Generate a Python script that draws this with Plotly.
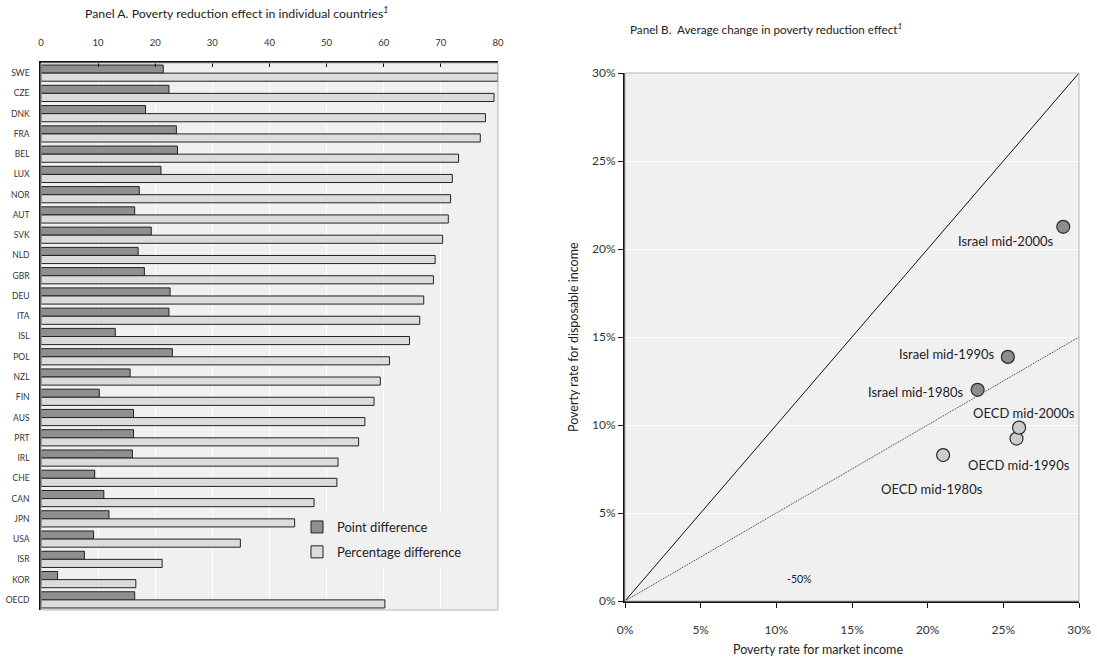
import plotly.graph_objects as go

# Panel A: poverty reduction effect by country
countries = ["SWE", "CZE", "DNK", "FRA", "BEL", "LUX", "NOR", "AUT", "SVK", "NLD",
             "GBR", "DEU", "ITA", "ISL", "POL", "NZL", "FIN", "AUS", "PRT", "IRL",
             "CHE", "CAN", "JPN", "USA", "ISR", "KOR", "OECD"]
point_diff = [21.4, 22.4, 18.3, 23.7, 23.9, 21.0, 17.2, 16.4, 19.3, 17.0,
              18.1, 22.6, 22.4, 13.0, 23.0, 15.6, 10.2, 16.2, 16.2, 16.0,
              9.4, 11.0, 11.9, 9.2, 7.6, 2.9, 16.4]
pct_diff = [80.0, 79.3, 77.8, 76.9, 73.1, 72.0, 71.7, 71.3, 70.3, 69.0,
            68.7, 67.0, 66.3, 64.5, 61.0, 59.4, 58.3, 56.7, 55.6, 52.0,
            51.8, 47.8, 44.4, 34.9, 21.2, 16.6, 60.2]
bar_ticks = [0, 10, 20, 30, 40, 50, 60, 70, 80]

# Panel B: poverty rates before and after taxes and transfers (%)
israel_labels = ["Israel mid-1980s", "Israel mid-1990s", "Israel mid-2000s"]
israel_market = [23.3, 25.3, 28.96]
israel_disp = [12.0, 13.87, 21.26]
oecd_labels = ["OECD mid-1980s", "OECD mid-1990s", "OECD mid-2000s"]
oecd_market = [21.02, 25.87, 26.04]
oecd_disp = [8.29, 9.23, 9.85]
ref_x = [0, 30]
parity_y = [0, 30]
half_y = [0, 15]
rate_ticks = [0, 5, 10, 15, 20, 25, 30]
rate_ticktext = [f"{v}%" for v in rate_ticks]

FONT = "Lato, 'Open Sans', sans-serif"
TXT = "#333333"
PANEL_BG = "#f0f0f0"
W, H = 1097, 661

fig = go.Figure()

fig.add_trace(go.Bar(
    y=countries, x=point_diff, orientation="h", name="Point difference",
    legendgroup="point",
    marker=dict(color="#8f8f8f", line=dict(color="#222222", width=1)),
    xaxis="x", yaxis="y",
))
fig.add_trace(go.Bar(
    y=countries, x=pct_diff, orientation="h", name="Percentage difference",
    legendgroup="pct",
    marker=dict(color="#dcdcdc", line=dict(color="#222222", width=1)),
    xaxis="x", yaxis="y",
))

# reference lines: no change and halving of the poverty rate
fig.add_trace(go.Scatter(
    x=ref_x, y=parity_y, mode="lines", line=dict(color="#111111", width=1),
    showlegend=False, xaxis="x2", yaxis="y2", hoverinfo="skip",
))
fig.add_trace(go.Scatter(
    x=ref_x, y=half_y, mode="lines",
    line=dict(color="#333333", width=1, dash="1px,1px"),
    showlegend=False, xaxis="x2", yaxis="y2", hoverinfo="skip",
))
fig.add_trace(go.Scatter(
    x=israel_market, y=israel_disp, mode="markers", text=israel_labels,
    marker=dict(size=13, color="#8c8c8c", line=dict(color="#2b2b2b", width=1.2)),
    showlegend=False, xaxis="x2", yaxis="y2",
))
fig.add_trace(go.Scatter(
    x=oecd_market, y=oecd_disp, mode="markers", text=oecd_labels,
    marker=dict(size=13, color="#cccccc", line=dict(color="#2b2b2b", width=1.2)),
    showlegend=False, xaxis="x2", yaxis="y2",
))

# point labels, offset in pixels from each marker
label_offsets = {
    "Israel mid-1980s": ("right", -12, -2),
    "Israel mid-1990s": ("right", -11, 3),
    "Israel mid-2000s": ("right", -7, -14),
    "OECD mid-1980s": ("center", -11, -34),
    "OECD mid-1990s": ("center", 2, -26),
    "OECD mid-2000s": ("center", 5, 15),
}
annotations = []
for labels, xs, ys in ((israel_labels, israel_market, israel_disp),
                       (oecd_labels, oecd_market, oecd_disp)):
    for lab, xv, yv in zip(labels, xs, ys):
        anchor, dx, dy = label_offsets[lab]
        annotations.append(dict(
            x=xv, y=yv, xref="x2", yref="y2", text=lab, showarrow=False,
            xanchor=anchor, yanchor="middle", xshift=dx, yshift=dy,
            font=dict(family=FONT, size=13, color="#222222"),
        ))

annotations.append(dict(
    x=11.5, y=1.25, xref="x2", yref="y2", text="-50%", showarrow=False,
    font=dict(family=FONT, size=10.5, color="#222222"),
))
annotations.append(dict(
    x=236 / W, y=1 - 13 / H, xref="paper", yref="paper",
    xanchor="center", yanchor="middle",
    text="Panel A. Poverty reduction effect in individual countries<sup><i>1</i></sup>",
    showarrow=False, font=dict(family=FONT, size=12.3, color="#222222"),
))
annotations.append(dict(
    x=766 / W, y=1 - 29 / H, xref="paper", yref="paper",
    xanchor="center", yanchor="middle",
    text="Panel B.  Average change in poverty reduction effect<sup><i>1</i></sup>",
    showarrow=False, font=dict(family=FONT, size=11.7, color="#222222"),
))
annotations.append(dict(
    x=818 / W, y=1 - 649 / H, xref="paper", yref="paper",
    xanchor="center", yanchor="middle",
    text="Poverty rate for market income", showarrow=False,
    font=dict(family=FONT, size=12.5, color="#222222"),
))
annotations.append(dict(
    x=573 / W, y=1 - 337 / H, xref="paper", yref="paper",
    xanchor="center", yanchor="middle", textangle=-90,
    text="Poverty rate for disposable income", showarrow=False,
    font=dict(family=FONT, size=12.5, color="#222222"),
))

# panel borders
shapes = [
    dict(type="rect", xref="x domain", yref="y domain", x0=0, x1=1, y0=0, y1=1,
         line=dict(color="#b5b5b5", width=1), layer="above"),
    dict(type="rect", xref="x2 domain", yref="y2 domain", x0=0, x1=1, y0=0, y1=1,
         line=dict(color="#b5b5b5", width=1), layer="above"),
]

fig.update_layout(
    width=W, height=H,
    margin=dict(l=0, r=0, t=0, b=0, autoexpand=False),
    paper_bgcolor="white",
    plot_bgcolor=PANEL_BG,
    barmode="group", bargap=0.2, bargroupgap=0.0,
    font=dict(family=FONT, color=TXT),
    showlegend=True,
    legend=dict(
        x=297 / W, y=1 - 512 / H, xanchor="left", yanchor="top",
        bgcolor=PANEL_BG, font=dict(family=FONT, size=13, color="#222222"),
        tracegroupgap=5, itemwidth=30,
    ),
    xaxis=dict(
        domain=[41 / W, 498 / W], anchor="y", side="top", automargin=False,
        range=[0, 80], tickvals=bar_ticks, ticks="inside", ticklen=4,
        tickcolor="#111111", showline=True, linecolor="#111111", linewidth=2,
        showgrid=True, gridcolor="white", gridwidth=1, zeroline=False,
        tickfont=dict(size=9.5, color=TXT), ticklabelstandoff=11,
    ),
    yaxis=dict(
        domain=[1 - 610 / H, 1 - 63 / H], anchor="x", automargin=False,
        autorange="reversed", type="category",
        showline=True, linecolor="#111111", linewidth=1.5,
        showgrid=False, ticks="", tickfont=dict(size=8.5, color=TXT),
        ticklabelstandoff=8,
    ),
    xaxis2=dict(
        domain=[625 / W, 1079 / W], anchor="y2", automargin=False,
        range=[0, 30], tickvals=rate_ticks, ticktext=rate_ticktext,
        ticks="outside", ticklen=5, tickcolor="#111111",
        showline=True, linecolor="#111111", linewidth=2,
        showgrid=False, zeroline=False,
        tickfont=dict(size=12, color=TXT), ticklabelstandoff=12,
    ),
    yaxis2=dict(
        domain=[1 - 601 / H, 1 - 73 / H], anchor="x2", automargin=False,
        range=[0, 30], tickvals=rate_ticks, ticktext=rate_ticktext,
        ticks="outside", ticklen=5, tickcolor="#111111",
        showline=True, linecolor="#111111", linewidth=2,
        showgrid=True, gridcolor="white", gridwidth=1, zeroline=False,
        tickfont=dict(size=12, color=TXT),
    ),
    annotations=annotations,
    shapes=shapes,
)

fig.write_html("out.html")
